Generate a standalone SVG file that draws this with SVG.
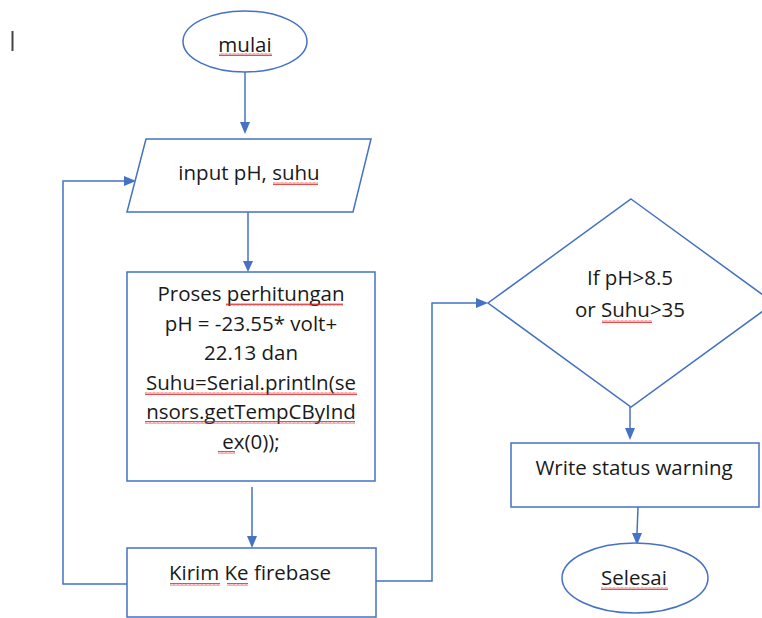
<svg xmlns="http://www.w3.org/2000/svg" width="762" height="618" viewBox="0 0 762 618">
<style>
.s{fill:#fff;stroke:#4472C4;stroke-width:1.5}
.c{fill:none;stroke:#4472C4;stroke-width:1.5}
.t{font-family:"Open Sans","Liberation Sans",sans-serif;font-size:20.5px;fill:#1a1a1a;text-anchor:middle}
.q{fill:url(#sq)}
</style>
<defs>
<pattern id="sq" patternUnits="userSpaceOnUse" width="4" height="3"><path d="M0,2.5 L1,0.5 L2,2.5 L3,0.5 L4,2.5" fill="none" stroke="#e02020" stroke-width="0.8"/></pattern>
</defs>
<rect width="762" height="618" fill="#fff"/>
<line x1="12.5" y1="31" x2="12.5" y2="51" stroke="#444" stroke-width="2"/>
<g id="connectors">
<path class="c" d="M245,72 L245,123"/>
<path d="M240,122 L250,122 L245,134 z" fill="#4472C4"/>
<path class="c" d="M248,212 L248,262"/>
<path d="M243,261 L253,261 L248,272 z" fill="#4472C4"/>
<path class="c" d="M252,487 L252,537"/>
<path d="M247,536 L257,536 L252,548 z" fill="#4472C4"/>
<path class="c" d="M127,584 L63,584 L63,181 L125,181"/>
<path d="M124,176 L124,186 L136,181 z" fill="#4472C4"/>
<path class="c" d="M376,581 L432,581 L432,303 L477,303"/>
<path d="M476,298 L476,308 L488,303 z" fill="#4472C4"/>
<path class="c" d="M630,407 L630,429"/>
<path d="M625,428 L635,428 L630,440 z" fill="#4472C4"/>
<path class="c" d="M638,507 L637,534"/>
<path d="M632,533 L642,533 L637,545 z" fill="#4472C4"/>
</g>
<g id="mulai">
<ellipse class="s" cx="245" cy="41.5" rx="62" ry="30.5"/>
<text class="t" x="245" y="52">mulai</text>
<rect class="q" x="219" y="53" width="53" height="3"/>
</g>
<g id="input">
<polygon class="s" points="146,139 371,139 353,212 127,212"/>
<text class="t" x="249" y="180">input pH, suhu</text>
<rect class="q" x="273" y="182" width="45" height="3"/>
</g>
<g id="proses">
<rect class="s" x="127" y="272" width="248" height="209"/>
<text class="t" x="251" y="301">Proses perhitungan</text>
<text class="t" x="251" y="331">pH = -23.55* volt+</text>
<text class="t" x="251" y="360">22.13 dan</text>
<text class="t" x="251" y="390">Suhu=Serial.println(se</text>
<text class="t" x="251" y="419">nsors.getTempCByInd</text>
<text class="t" x="251" y="449">ex(0));</text>
<rect class="q" x="226" y="303" width="117" height="3"/>
<rect class="q" x="145" y="392" width="212" height="3"/>
<rect class="q" x="145" y="421" width="210" height="3"/>
<rect class="q" x="218" y="451" width="17" height="3"/>
</g>
<g id="kirim">
<rect class="s" x="127" y="548" width="249" height="69"/>
<text class="t" x="250" y="580">Kirim Ke firebase</text>
<rect class="q" x="170" y="583" width="50" height="3"/>
<rect class="q" x="227" y="583" width="21" height="3"/>
</g>
<g id="decision">
<polygon class="s" points="631,199 774,303 631,407 488,303"/>
<text class="t" x="630" y="285">If pH&gt;8.5</text>
<text class="t" x="630" y="317">or Suhu&gt;35</text>
<rect class="q" x="602" y="320" width="50" height="3"/>
</g>
<g id="warning">
<rect class="s" x="511" y="443" width="248" height="64"/>
<text class="t" x="634" y="475">Write status warning</text>
</g>
<g id="selesai">
<ellipse class="s" cx="635" cy="578" rx="73" ry="35"/>
<text class="t" x="634" y="585">Selesai</text>
<rect class="q" x="601" y="587" width="67" height="3"/>
</g>
</svg>
